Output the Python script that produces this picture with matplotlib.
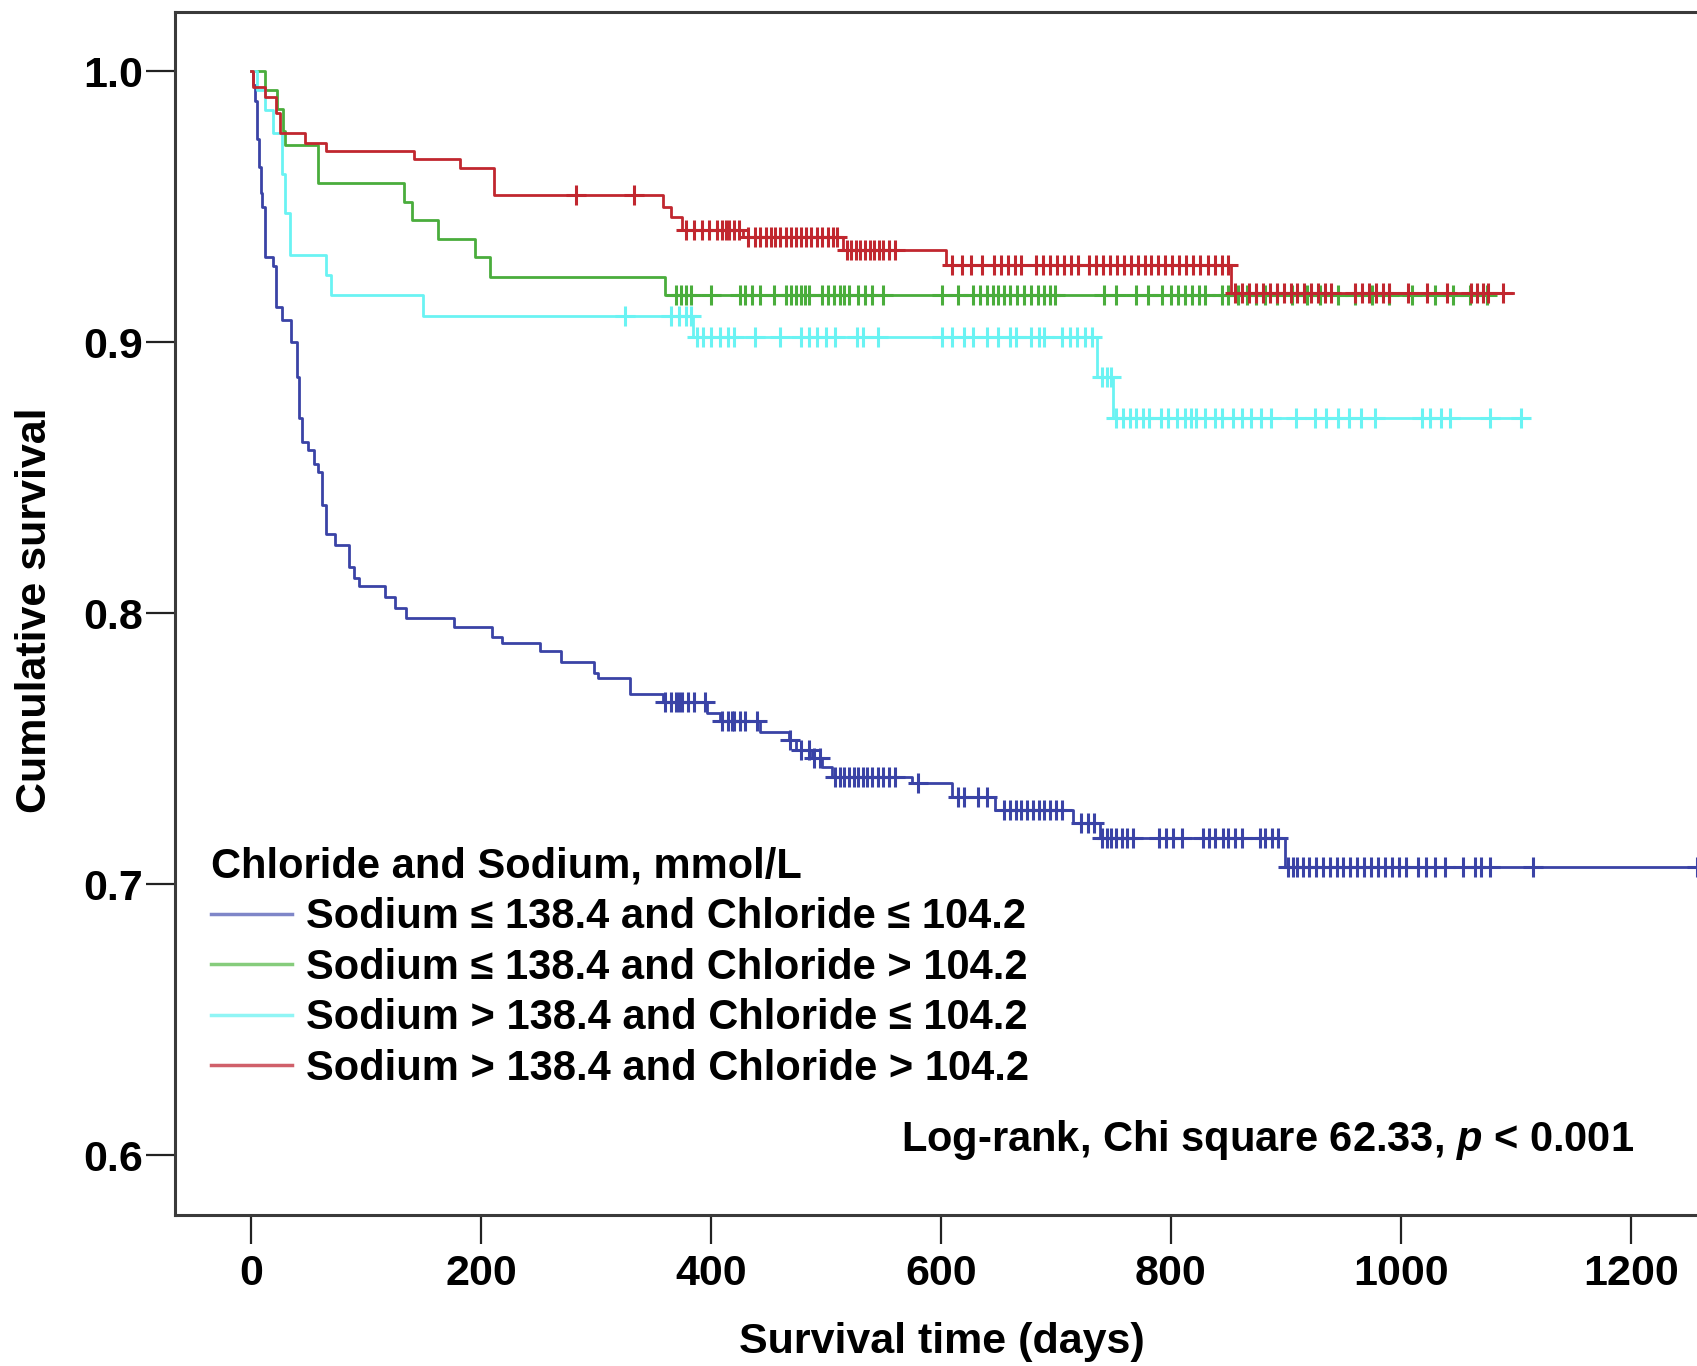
import numpy as np
import matplotlib.pyplot as plt
from matplotlib.lines import Line2D

plt.rcParams['font.family'] = ['Liberation Sans', 'DejaVu Sans']
plt.rcParams['font.weight'] = 'bold'
plt.rcParams['mathtext.fontset'] = 'custom'
plt.rcParams['mathtext.it'] = 'Liberation Sans:italic:bold'
plt.rcParams['mathtext.rm'] = 'Liberation Sans:bold'

#data: step times (days) and survival after each step, censor times
blue_t = [0, 2, 3.5, 5, 7, 9, 10, 12, 19, 22, 27, 35, 40, 42, 44, 50, 55, 58, 62, 65, 73, 85, 90, 94,
          117, 125, 135, 177, 210, 218, 251, 270, 298, 302, 330, 358, 397, 408, 443, 468, 474, 488,
          497, 505, 575, 610, 647, 715, 738, 899]
blue_s = [1.0, 0.995, 0.989, 0.975, 0.9646, 0.955, 0.95, 0.9314, 0.928, 0.913, 0.908, 0.900, 0.887,
          0.872, 0.863, 0.860, 0.855, 0.852, 0.840, 0.829, 0.825, 0.817, 0.813, 0.810, 0.806, 0.802,
          0.798, 0.795, 0.791, 0.789, 0.786, 0.782, 0.778, 0.776, 0.770, 0.767, 0.763, 0.760, 0.756,
          0.753, 0.7494, 0.7465, 0.7433, 0.7396, 0.7373, 0.7322, 0.7273, 0.7225, 0.717, 0.7064]
blue_end = 1258
blue_cens = [360, 365, 370, 372, 375, 380, 385, 395, 410, 415, 418, 420, 425, 430, 440, 469, 478, 485,
             490, 495, 508, 512, 516, 520, 524, 528, 532, 536, 540, 545, 550, 555, 560, 580, 615, 620,
             632, 640, 655, 660, 665, 670, 675, 680, 685, 690, 695, 700, 705, 722, 728, 733, 740, 744,
             748, 752, 757, 762, 767, 790, 796, 802, 810, 828, 833, 838, 845, 850, 856, 862, 877, 882,
             888, 893, 902, 906, 910, 915, 920, 926, 932, 938, 944, 950, 956, 962, 968, 974, 980, 986,
             992, 998, 1004, 1015, 1022, 1030, 1038, 1054, 1064, 1070, 1077, 1115, 1257]

green_t = [0, 12, 23, 28, 30, 58, 133, 140, 163, 195, 208, 360]
green_s = [1.0, 0.993, 0.986, 0.978, 0.9727, 0.9586, 0.9518, 0.945, 0.938, 0.9315, 0.9241, 0.9173]
green_end = 1080
green_cens = [370, 374, 378, 383, 400, 425, 430, 436, 443, 455, 465, 470, 474, 478, 482, 485, 497, 502,
              507, 512, 516, 520, 528, 534, 540, 550, 601, 615, 628, 634, 640, 645, 650, 655, 660, 666,
              672, 678, 684, 690, 695, 699, 742, 752, 770, 780, 792, 800, 806, 812, 818, 824, 830, 844,
              850, 858, 866, 874, 882, 892, 905, 918, 930, 945, 960, 975, 990, 1010, 1030, 1045, 1060,
              1075]

cyan_t = [0, 5, 12, 19, 27, 30, 34, 65, 70, 150, 384, 736, 750]
cyan_s = [1.0, 0.993, 0.9856, 0.977, 0.962, 0.9476, 0.932, 0.9247, 0.9173, 0.9096, 0.902, 0.8872, 0.872]
cyan_end = 1109
cyan_cens = [325, 365, 372, 378, 383, 388, 393, 400, 408, 415, 420, 438, 460, 478, 485, 492, 500, 508,
             527, 532, 545, 601, 610, 620, 628, 640, 650, 660, 665, 678, 685, 690, 705, 712, 718, 725,
             731, 740, 744, 748, 752, 758, 764, 770, 776, 781, 791, 797, 805, 812, 817, 822, 830, 838,
             844, 854, 862, 870, 878, 887, 909, 925, 935, 945, 955, 965, 977, 1018, 1025, 1035, 1043,
             1077, 1104]

red_t = [0, 2, 12, 22, 25, 47, 65, 142, 182, 211, 358, 365, 375, 428, 515, 604, 852]
red_s = [1.0, 0.994, 0.9905, 0.9845, 0.977, 0.9733, 0.9706, 0.9674, 0.9641, 0.9542, 0.950, 0.946,
         0.9413, 0.9387, 0.934, 0.9284, 0.918]
red_end = 1097
red_cens = [283, 333, 378, 385, 392, 398, 405, 410, 413, 416, 420, 424, 432, 438, 443, 448, 452, 456,
            460, 465, 470, 474, 478, 483, 487, 492, 497, 502, 506, 510, 518, 522, 526, 530, 534, 538,
            542, 546, 550, 555, 560, 610, 618, 626, 636, 646, 652, 658, 664, 670, 683, 689, 695, 701,
            707, 713, 719, 729, 735, 741, 747, 753, 759, 765, 771, 777, 783, 789, 795, 801, 807, 813,
            819, 825, 832, 838, 844, 850, 856, 862, 868, 874, 880, 886, 892, 898, 904, 910, 916, 922,
            928, 934, 939, 960, 966, 972, 978, 984, 990, 1006, 1023, 1040, 1061, 1066, 1071, 1076, 1089]

labels = ['Sodium ≤ 138.4 and Chloride ≤ 104.2',
          'Sodium ≤ 138.4 and Chloride > 104.2',
          'Sodium > 138.4 and Chloride ≤ 104.2',
          'Sodium > 138.4 and Chloride > 104.2']
colors = ['#3a43a6', '#4aad3c', '#6af3f3', '#c1272f']
legend_colors = ['#7f86c8', '#86cc7c', '#90f5f5', '#d0606a']

curves = [(blue_t, blue_s, blue_end, blue_cens),
          (green_t, green_s, green_end, green_cens),
          (cyan_t, cyan_s, cyan_end, cyan_cens),
          (red_t, red_s, red_end, red_cens)]

#figure
W, H = 1697, 1366
fig = plt.figure(figsize=(W/100, H/100), dpi=100)
ax = fig.add_axes([175/W, (H-1215)/H, 1571/W, (1215-12.3)/H])

for (t, s, end, cens), c in zip(curves, colors):
    tt = np.append(t, end)
    ss = np.append(s, s[-1])
    ax.step(tt, ss, where='post', color=c, lw=2.0)
    idx = np.searchsorted(t, cens, side='right') - 1
    ax.plot(cens, np.asarray(s)[idx], ls='none', marker='+', ms=14, mew=2.2, color=c)

ax.set_xlim(-66, 1300)
ax.set_ylim(0.5779, 1.02166)
ax.set_xticks(np.arange(0, 1201, 200))
ax.set_yticks([0.6, 0.7, 0.8, 0.9, 1.0])
ax.set_yticklabels(['0.6', '0.7', '0.8', '0.9', '1.0'])
ax.tick_params(axis='both', direction='out', length=21, width=1.6, labelsize=31, color='#222222')
ax.tick_params(axis='y', pad=2)
ax.tick_params(axis='x', pad=7)
for sp in ax.spines.values():
    sp.set_linewidth(2.2)
    sp.set_color('#3a3a3a')

handles = [Line2D([], [], color=c, lw=2.5) for c in legend_colors]
leg = ax.legend(handles, labels, title='Chloride and Sodium, mmol/L', loc='upper left',
                bbox_to_anchor=(211/W, 1 - 847/H), bbox_transform=fig.transFigure,
                frameon=False, fontsize=30, title_fontproperties={'size': 30, 'weight': 'bold'},
                alignment='left', handlelength=1.95, handletextpad=0.33, labelspacing=0.25,
                borderpad=0, borderaxespad=0)

fig.text(1634/W, 1 - 1140/H, r'Log-rank, Chi square 62.33, $\it{p}$ < 0.001', fontsize=30,
         ha='right', va='center')
fig.text(942/W, 1 - 1342/H, 'Survival time (days)', fontsize=31, ha='center', va='center')
fig.text(35/W, 1 - 610/H, 'Cumulative survival', fontsize=31, ha='center', va='center', rotation=90)

plt.savefig('out.png', dpi=100)
